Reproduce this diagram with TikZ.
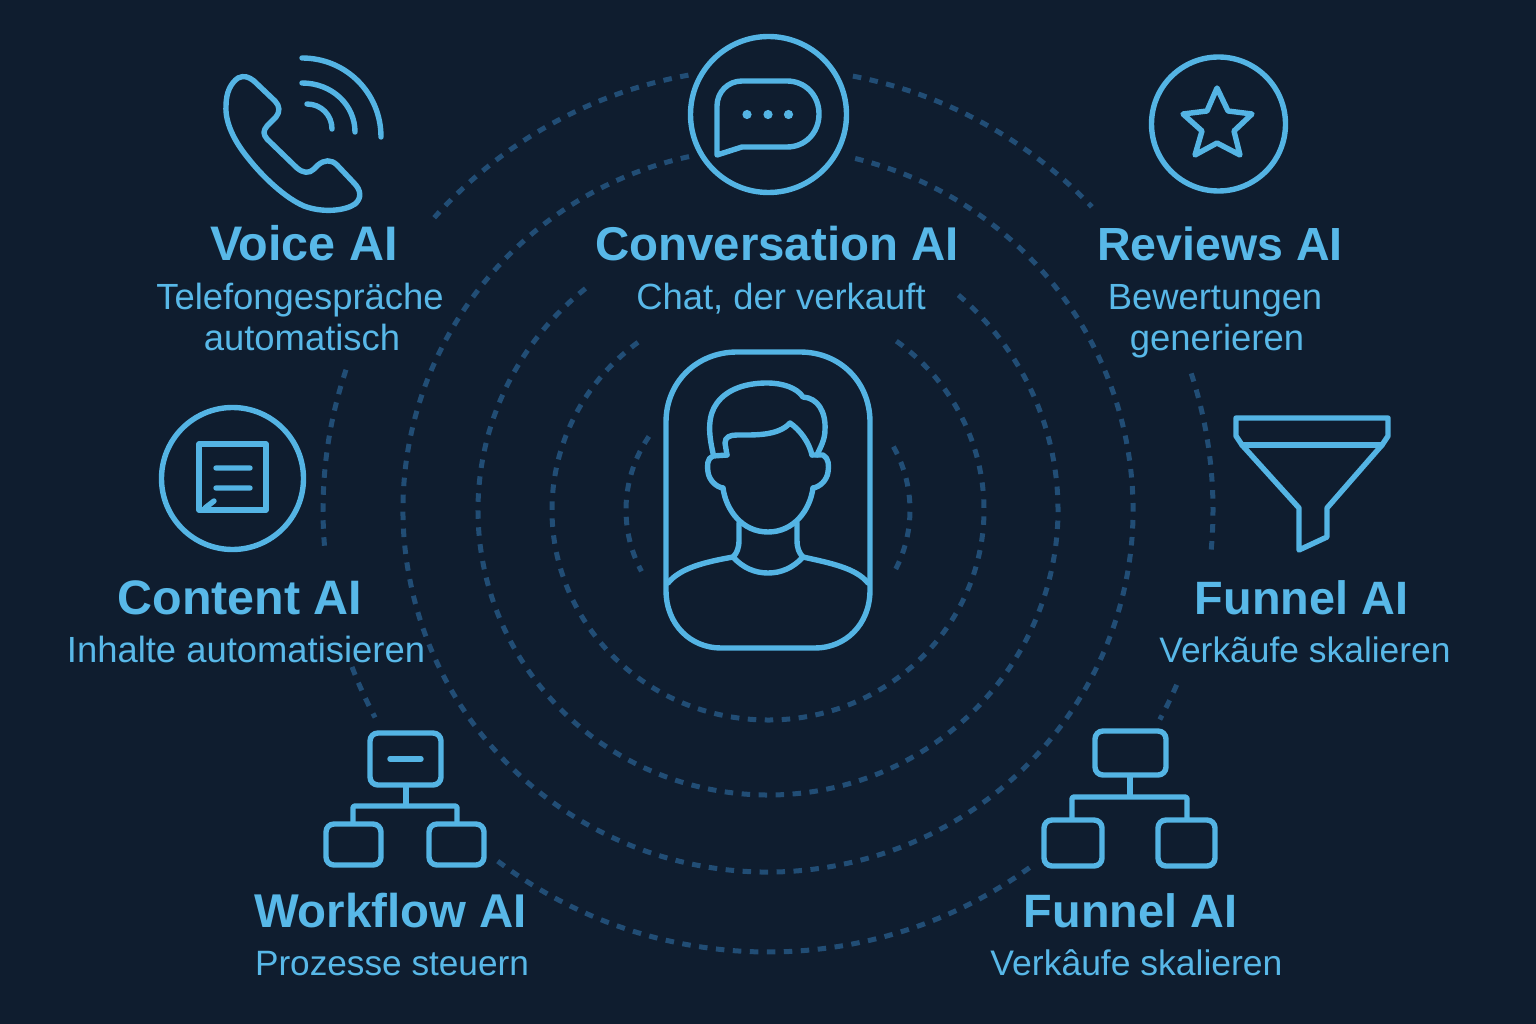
\documentclass[tikz,border=0pt]{standalone}
\usepackage{fontspec}
\setmainfont{Liberation Sans}
\definecolor{bgc}{HTML}{0F1D2F}
\definecolor{ice}{HTML}{54B4E4}
\definecolor{txtc}{HTML}{58B8E8}
\definecolor{ringc}{HTML}{214D75}
\tikzset{
  ic/.style={draw=ice,line width=5.4pt,line cap=round,line join=round},
  ringline/.style={draw=ringc,line width=5pt,dash pattern=on 8.5pt off 8.5pt},
  title/.style={anchor=base,text=txtc,font=\fontsize{#1}{#1}\selectfont\bfseries,inner sep=0pt},
  title/.default=47.4,
  sub/.style={anchor=base,text=txtc,font=\fontsize{#1}{#1}\selectfont,inner sep=0pt},
  sub/.default=36.4,
}
\newcommand{\ringarc}[4]{\draw[ringline] (768pt,-510pt) ++(#3:#1pt and #2pt) arc[start angle=#3,end angle=#4,x radius=#1pt,y radius=#2pt];}
\begin{document}
\begin{tikzpicture}[x=1pt,y=-1pt]
\useasboundingbox (0,0) rectangle (1536,1024);
\fill[bgc] (0,0) rectangle (1536,1024);
% rings
\ringarc{142}{135}{147}{207}
\ringarc{142}{135}{28}{-29}
\ringarc{216}{210}{127}{414}
\ringarc{290}{285}{129}{410}
\ringarc{365}{362}{102.5}{437.5}
\ringarc{445}{442}{100.3}{138.6}
\ringarc{445}{442}{79}{43.3}
\ringarc{445}{442}{161.5}{185.4}
\ringarc{445}{442}{200.8}{208}
\ringarc{445}{442}{18}{-6}
\ringarc{445}{442}{-23.3}{-28.3}
\ringarc{445}{442}{232.6}{306}
% centre portrait
\draw[ic] (737,352) -- (800,352) .. controls (840,352) and (870,382) .. (870,422) -- (870,590)
  .. controls (870,625) and (845,648) .. (815,648) -- (721,648)
  .. controls (691,648) and (666,625) .. (666,590) -- (666,422)
  .. controls (666,382) and (697,352) .. (737,352) -- cycle;
% hair
\draw[ic] (713,453) .. controls (708,432) and (708,415) .. (717,403)
  .. controls (728,388) and (748,383) .. (767,383)
  .. controls (783,383) and (797,388) .. (803,397)
  .. controls (818,398) and (826,412) .. (825,430)
  .. controls (825,440) and (820,448) .. (817,455);
\draw[ic] (727,455) -- (725,443) .. controls (725,437) and (730,435) .. (737,435)
  .. controls (755,435) and (778,436) .. (790,423)
  .. controls (800,430) and (809,442) .. (812,455);
% ears
\draw[ic] (727,455) -- (713,456) .. controls (707,458) and (707,466) .. (708,472)
  .. controls (709,480) and (716,487) .. (723,488);
\draw[ic] (812,455) -- (823,455) .. controls (829,458) and (829,466) .. (828,472)
  .. controls (827,480) and (820,487) .. (813,488);
% face
\draw[ic] (723,488) .. controls (726,510) and (742,532) .. (768,532)
  .. controls (794,532) and (810,510) .. (813,488);
% neck, collar, shoulders
\draw[ic] (739,523) -- (739,540) .. controls (739,548) and (737,553) .. (733,557)
  .. controls (743,568) and (755,573) .. (768,573)
  .. controls (781,573) and (793,568) .. (803,557)
  .. controls (799,553) and (797,548) .. (797,540) -- (797,523);
\draw[ic] (733,557) .. controls (705,562) and (680,568) .. (668,583);
\draw[ic] (803,557) .. controls (830,563) and (856,568) .. (868,583);
% phone
\draw[ic] (238,78) .. controls (244,75) and (249,77) .. (254,81)
  -- (275,101) .. controls (280,106) and (280,112) .. (276,117)
  -- (267,126) .. controls (263,131) and (263,134) .. (267,139)
  -- (297,168) .. controls (303,173) and (309,174) .. (314,169)
  -- (318,165) .. controls (324,160) and (331,159) .. (337,165)
  -- (354,183) .. controls (361,190) and (362,198) .. (355,204)
  .. controls (345,211) and (322,213) .. (304,206)
  .. controls (285,198) and (262,176) .. (248,158)
  .. controls (234,141) and (225,122) .. (226,106)
  .. controls (226,92) and (231,83) .. (238,78) -- cycle;
\draw[ic] (302,58) .. controls (346,58) and (381,93) .. (381,137);
\draw[ic] (302,83) .. controls (332,83) and (355,105) .. (355,132);
\draw[ic] (307,104) .. controls (321,104) and (332,115) .. (332,129);
% chat
\draw[ic] (768.5,114.5) circle[radius=78];
\draw[ic] (717,155) -- (717,106) .. controls (717,92) and (728,81) .. (742,81) -- (787,81)
  .. controls (805,81) and (819,95) .. (819,114) .. controls (819,133) and (805,147) .. (787,147)
  -- (742,147) -- cycle;
\fill[ice] (747,114.5) circle[radius=4.6] (768,114.5) circle[radius=4.6] (788.5,114.5) circle[radius=4.6];
% star
\draw[ic] (1218.5,124) circle[radius=67];
\draw[ic] (1217,88) -- (1228,111) -- (1252,114) -- (1234,131) -- (1240,155) -- (1217,143)
  -- (1195,155) -- (1202,131) -- (1183,114) -- (1207,111) -- cycle;
% content
\draw[ic] (232.5,478.5) circle[radius=71];
\draw[ic,line cap=butt] (199,444) rectangle (266,510);
\draw[ic] (216,468) -- (250,468) (216,488) -- (250,488) (205,508) -- (214,501);
% funnel
\draw[ic] (1236,418) -- (1388,418) -- (1388,436) -- (1382,445) -- (1327,508) -- (1327,537) -- (1299,550)
  -- (1299,508) -- (1242,445) -- (1236,436) -- cycle;
\draw[ic] (1242,445) -- (1382,445);
% workflow icon
\draw[ic,rounded corners=8pt] (370,733) rectangle (441,785);
\draw[ic] (390,759) -- (421,759);
\draw[ic,line cap=butt] (406,785) -- (406,806);
\draw[ic,line cap=butt,rounded corners=2pt] (353,824) -- (353,806) -- (457,806) -- (457,824);
\draw[ic,rounded corners=8pt] (326,824) rectangle (381,865);
\draw[ic,rounded corners=8pt] (429,824) rectangle (484,865);
% funnel tree icon
\draw[ic,rounded corners=8pt] (1095,731) rectangle (1166,775);
\draw[ic,line cap=butt] (1130,775) -- (1130,797);
\draw[ic,line cap=butt,rounded corners=2pt] (1072,819) -- (1072,797) -- (1187,797) -- (1187,819);
\draw[ic,rounded corners=8pt] (1044,820) rectangle (1102,866);
\draw[ic,rounded corners=8pt] (1158,820) rectangle (1215,866);
% labels
\node[title=48.5] (tVoice) at (304,261) {Voice AI};
\node[sub] (sVoiceA) at (300,309) {Telefongespräche};
\node[sub] (sVoiceB) at (302,350) {automatisch};
\node[title] (tConv) at (777,261) {Conversation AI};
\node[sub] (sConv) at (781,309) {Chat, der verkauft};
\node[title=46.5] (tRev) at (1220,261) {Reviews AI};
\node[sub] (sRevA) at (1215,309) {Bewertungen};
\node[sub] (sRevB) at (1217,350) {generieren};
\node[title=48.4] (tCont) at (240,614) {Content AI};
\node[sub] (sCont) at (246,662) {Inhalte automatisieren};
\node[title=46.8] (tFunA) at (1301.5,614) {Funnel AI};
\node[sub=35.4] (sFunA) at (1305,662) {Verkãufe skalieren};
\node[title] (tWork) at (390.5,927) {Workflow AI};
\node[sub=35.2] (sWork) at (392,975) {Prozesse steuern};
\node[title=46.8] (tFunB) at (1130.5,927) {Funnel AI};
\node[sub=35.5] (sFunB) at (1136.5,975) {Verkâufe skalieren};
\end{tikzpicture}
\end{document}
